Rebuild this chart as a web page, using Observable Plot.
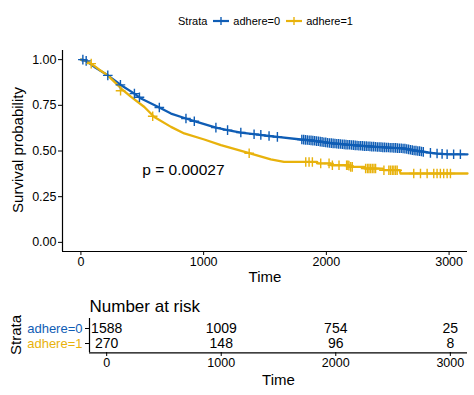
<!DOCTYPE html>
<html>
<head>
<meta charset="utf-8">
<script src="https://cdn.jsdelivr.net/npm/d3@7"></script>
<script src="https://cdn.jsdelivr.net/npm/@observablehq/plot@0.6"></script>
<style>
  html, body { margin: 0; padding: 0; background: #fff; }
  #wrap { position: relative; width: 474px; height: 395px; font-family: "Liberation Sans", Arial, sans-serif; overflow: hidden; }
  #legend { position: absolute; top: 15px; left: 178px; display: flex; align-items: center; font-size: 11px; color: #000; white-space: nowrap; }
  #main { position: absolute; top: 0; left: 0; }
  #risk { position: absolute; top: 290px; left: 0; }
  .rot { position: absolute; white-space: nowrap; font-size: 15px; color: #000; transform: translate(-50%, -50%) rotate(-90deg); line-height: 1; }
</style>
</head>
<body>
<div id="wrap">
  <div id="main"></div>
  <div id="risk"></div>
  <div id="legend"></div>
  <div class="rot" id="ylab" style="left:17px; top:150px;"></div>
  <div class="rot" id="rlab" style="left:15px; top:335px;"></div>
</div>
<script>
// ---------- data ----------
const strata = ["adhere=0", "adhere=1"];
const colors = ["#0F5DB5", "#E8B20C"];
const legendTitle = "Strata";
const yLabel = "Survival probability";
const xLabel = "Time";
const riskTitle = "Number at risk";

// Kaplan-Meier curve: [time, survival]
const curve0 = [[0,1],[30,0.997],[60,0.985],[120,0.955],[219,0.914],[328,0.86],[436,0.814],[490,0.787],[639,0.738],[734,0.705],[856,0.678],[924,0.663],[1100,0.628],[1195,0.614],[1303,0.601],[1425,0.591],[1533,0.582],[1601,0.577],[1791,0.563],[1900,0.556],[2000,0.546],[2062,0.541],[2200,0.533],[2333,0.526],[2500,0.519],[2631,0.514],[2700,0.505],[2793,0.495],[2902,0.486],[3000,0.482],[3150,0.482]];
const curve1 = [[0,1],[40,0.995],[84,0.978],[150,0.945],[219,0.914],[328,0.842],[409,0.796],[517,0.741],[598,0.686],[734,0.632],[842,0.596],[1005,0.563],[1141,0.532],[1249,0.512],[1385,0.486],[1547,0.454],[1655,0.44],[1925,0.44],[1930,0.432],[2036,0.432],[2040,0.422],[2180,0.422],[2190,0.413],[2310,0.413],[2318,0.404],[2460,0.404],[2468,0.395],[2598,0.395],[2604,0.377],[3150,0.377]];

// censoring marks: [time, survival]
const censor0 = [[16,1.0],[43,0.993],[219,0.914],[322,0.862],[436,0.814],[477,0.794],[639,0.738],[856,0.678],[924,0.663],[1100,0.628],[1195,0.614],[1303,0.601],[1411,0.592],[1466,0.588],[1533,0.582],[1601,0.577],
  [1800,0.563],[1815,0.562],[1830,0.561],[1845,0.560],[1860,0.559],[1875,0.558],[1890,0.557],[1905,0.556],[1920,0.554],[1935,0.553],[1950,0.551],[1965,0.550],[1980,0.548],[1995,0.547],[2010,0.545],[2025,0.544],[2040,0.543],[2055,0.542],[2070,0.541],[2085,0.540],[2100,0.539],[2115,0.538],[2130,0.537],[2145,0.536],[2160,0.535],[2175,0.534],[2190,0.534],[2205,0.533],[2220,0.532],[2235,0.531],[2250,0.530],[2265,0.529],[2280,0.529],[2295,0.528],[2310,0.527],[2325,0.527],[2340,0.526],[2355,0.525],[2370,0.524],[2385,0.524],[2400,0.523],[2415,0.522],[2430,0.522],[2445,0.521],[2460,0.520],[2475,0.520],[2490,0.519],[2505,0.519],[2520,0.518],[2535,0.518],[2550,0.517],[2565,0.517],[2580,0.516],[2595,0.515],[2610,0.515],[2625,0.514],[2640,0.513],[2655,0.511],[2670,0.509],[2685,0.507],[2700,0.505],[2715,0.503],[2730,0.502],[2745,0.500],[2760,0.499],[2775,0.497],[2790,0.495],
  [2848,0.490],[2902,0.486],[2943,0.484],[2984,0.482],[3037,0.482],[3092,0.482]];
const censor1 = [[84,0.978],[323,0.83],[585,0.69],[1371,0.488],[1832,0.44],[1859,0.44],[1886,0.44],[1954,0.432],[2022,0.432],[2049,0.422],[2103,0.422],[2165,0.422],[2175,0.422],[2184,0.420],[2198,0.413],[2211,0.413],[2320,0.404],[2335,0.404],[2347,0.404],[2360,0.404],[2374,0.404],[2388,0.404],[2401,0.404],[2469,0.395],[2509,0.395],[2522,0.395],[2537,0.395],[2550,0.395],[2564,0.395],[2577,0.395],[2712,0.377],[2767,0.377],[2821,0.377],[2875,0.377],[2902,0.377],[2929,0.377],[2956,0.377],[2984,0.377],[3011,0.377]];

const pText = "p = 0.00027";
const pPos = [500, 0.395];

// number at risk table
const riskTimes = [0, 1000, 2000, 3000];
const risk0 = [1588, 1009, 754, 25];
const risk1 = [270, 148, 96, 8];

const xTicks = [0, 1000, 2000, 3000];
const yTicks = [0, 0.25, 0.5, 0.75, 1];
const xDomain = [-150, 3150];
const yDomain = [-0.05, 1.05];

// ---------- tables ----------
const curveRows = [
  ...curve0.map(([t, s]) => ({time: t, surv: s, strata: strata[0]})),
  ...curve1.map(([t, s]) => ({time: t, surv: s, strata: strata[1]}))
];
const censorRows = [
  ...censor0.map(([t, s]) => ({time: t, surv: s, strata: strata[0]})),
  ...censor1.map(([t, s]) => ({time: t, surv: s, strata: strata[1]}))
];
const riskRows = [
  ...riskTimes.map((t, i) => ({time: t, n: risk0[i], strata: strata[0]})),
  ...riskTimes.map((t, i) => ({time: t, n: risk1[i], strata: strata[1]}))
];

const font = "'Liberation Sans', Arial, sans-serif";
const style = {fontFamily: font, fontSize: "12.5px", color: "black", background: "transparent", overflow: "visible"};
const fmtInt = d => String(d);

// ---------- main plot ----------
const main = Plot.plot({
  width: 474, height: 290,
  marginLeft: 62, marginRight: 7, marginTop: 50, marginBottom: 39,
  style,
  x: {domain: xDomain, ticks: xTicks, tickSize: 4, tickPadding: 2, tickFormat: fmtInt, label: null},
  y: {domain: yDomain, ticks: yTicks, tickSize: 4, tickPadding: 2, tickFormat: d3.format(".2f"), label: null},
  color: {domain: strata, range: colors},
  marks: [
    Plot.ruleX([xDomain[0]], {stroke: "black", strokeWidth: 1.2}),
    Plot.ruleY([yDomain[0]], {stroke: "black", strokeWidth: 1.2}),
    Plot.line(curveRows, {x: "time", y: "surv", z: "strata", stroke: "strata", strokeWidth: 2.3}),
    Plot.dot(censorRows, {x: "time", y: "surv", stroke: "strata", symbol: "plus", r: 3.2, strokeWidth: 1.4}),
    Plot.text([pText], {x: pPos[0], y: pPos[1], text: d => d, textAnchor: "start", fontSize: 15.5, fill: "black"}),
    Plot.text([xLabel], {frameAnchor: "bottom", dy: 30, text: d => d, fontSize: 15, fill: "black"})
  ]
});
document.getElementById("main").appendChild(main);

// ---------- risk table ----------
const risk = Plot.plot({
  width: 474, height: 105,
  marginLeft: 89, marginRight: 7, marginTop: 28, marginBottom: 43,
  style,
  x: {domain: xDomain, ticks: xTicks, tickSize: 4, tickPadding: 2, tickFormat: fmtInt, label: null},
  y: {type: "point", domain: strata, padding: 0.6, tickSize: 4, tickFormat: () => "", label: null},
  color: {domain: strata, range: colors},
  marks: [
    Plot.ruleX([xDomain[0]], {stroke: "black", strokeWidth: 1.2}),
    Plot.ruleY([strata[1]], {stroke: "black", strokeWidth: 1.2, dy: 9.3}),
    Plot.text(riskRows, {x: "time", y: "strata", text: d => String(d.n), fontSize: 14, fill: "black"}),
    Plot.text(strata, {x: xDomain[0], y: d => d, text: d => d, fill: d => d, textAnchor: "end", dx: -7, fontSize: 13}),
    Plot.text([riskTitle], {frameAnchor: "top-left", textAnchor: "start", lineAnchor: "bottom", dy: -7, text: d => d, fontSize: 17, fill: "black"}),
    Plot.text([xLabel], {frameAnchor: "bottom", dy: 32, text: d => d, fontSize: 15, fill: "black"})
  ]
});
document.getElementById("risk").appendChild(risk);

// ---------- rotated axis titles ----------
document.getElementById("ylab").textContent = yLabel;
document.getElementById("rlab").textContent = legendTitle;

// ---------- legend ----------
const legend = document.getElementById("legend");
function key(color) {
  const ns = "http://www.w3.org/2000/svg";
  const s = document.createElementNS(ns, "svg");
  s.setAttribute("width", 16); s.setAttribute("height", 10);
  s.innerHTML = `<line x1="0" y1="5" x2="16" y2="5" stroke="${color}" stroke-width="2.2"/><line x1="8" y1="1" x2="8" y2="9" stroke="${color}" stroke-width="1.4"/>`;
  return s;
}
const t = document.createElement("span"); t.textContent = legendTitle; t.style.marginRight = "6px";
legend.appendChild(t);
strata.forEach((s, i) => {
  const k = key(colors[i]); k.style.marginRight = "4px"; if (i > 0) k.style.marginLeft = "6px";
  legend.appendChild(k);
  const l = document.createElement("span"); l.textContent = s;
  legend.appendChild(l);
});
</script>
</body>
</html>
